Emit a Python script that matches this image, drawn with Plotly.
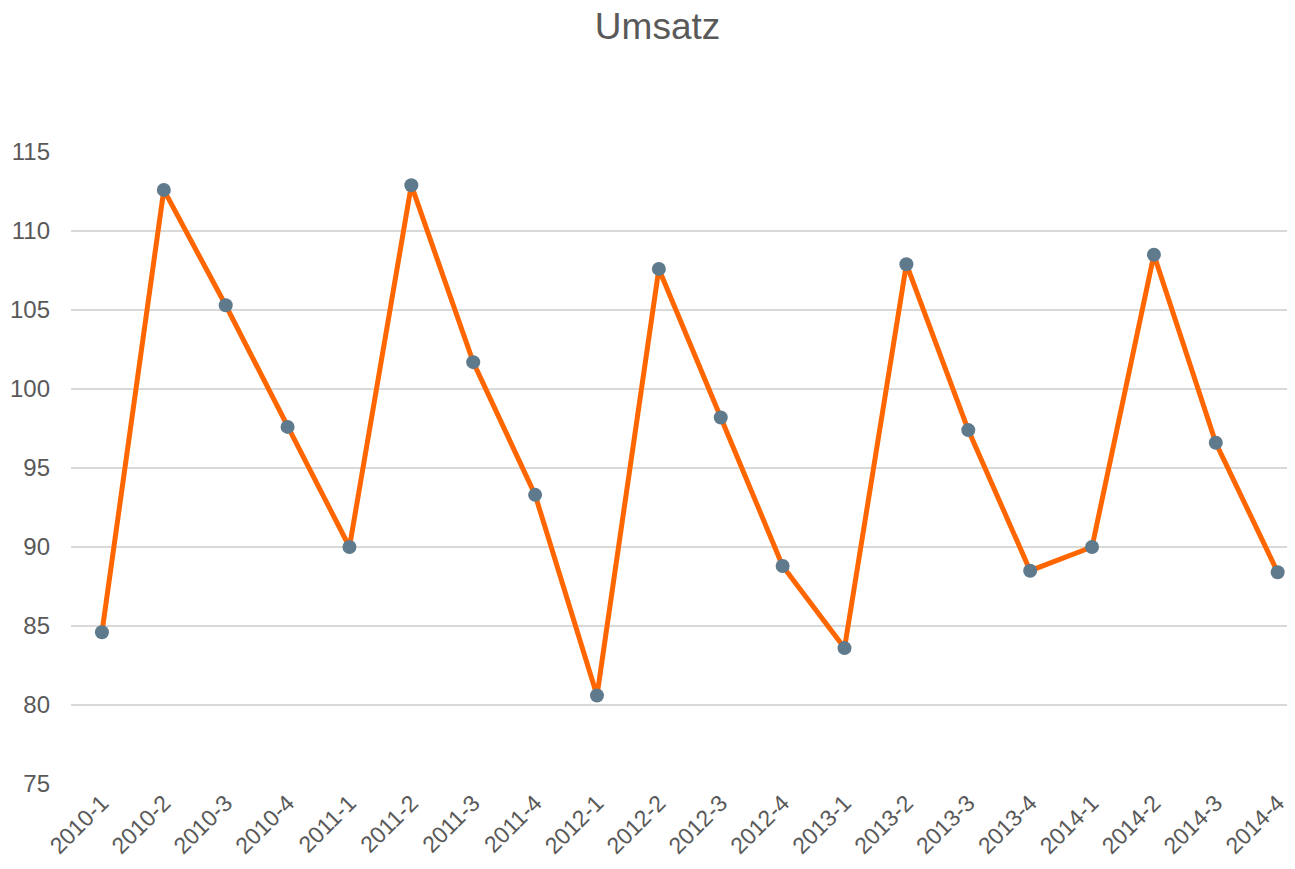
import plotly.graph_objects as go

quarters = [
    "2010-1", "2010-2", "2010-3", "2010-4",
    "2011-1", "2011-2", "2011-3", "2011-4",
    "2012-1", "2012-2", "2012-3", "2012-4",
    "2013-1", "2013-2", "2013-3", "2013-4",
    "2014-1", "2014-2", "2014-3", "2014-4",
]
umsatz = [
    84.6, 112.6, 105.3, 97.6,
    90.0, 112.9, 101.7, 93.3,
    80.6, 107.6, 98.2, 88.8,
    83.6, 107.9, 97.4, 88.5,
    90.0, 108.5, 96.6, 88.4,
]
y_ticks = [75, 80, 85, 90, 95, 100, 105, 110, 115]

text_color = "#595959"

fig = go.Figure()
fig.add_trace(
    go.Scatter(
        x=quarters,
        y=umsatz,
        mode="lines+markers",
        line=dict(color="#FF6600", width=5),
        marker=dict(color="#5F7A8C", size=14),
        name="Umsatz",
    )
)

# page body has an 8px margin, so the figure is a bit smaller than the window
fig.update_layout(
    width=1287,
    height=861,
    paper_bgcolor="white",
    plot_bgcolor="white",
    showlegend=False,
    font=dict(family="Liberation Sans, Arial, sans-serif", color=text_color),
    title=dict(
        text="Umsatz",
        x=0.5047,
        xanchor="center",
        y=1 - 18 / 861,
        yanchor="middle",
        font=dict(size=37, color=text_color),
    ),
    margin=dict(l=63, r=0, t=144, b=85),
    xaxis=dict(
        type="category",
        range=[-0.5, 19.28],
        tickangle=-45,
        showgrid=False,
        showline=False,
        ticks="",
        tickfont=dict(size=23, color=text_color),
    ),
    yaxis=dict(
        range=[75, 115],
        tickvals=y_ticks,
        showgrid=True,
        gridcolor="#D9D9D9",
        gridwidth=1.5,
        zeroline=False,
        showline=False,
        ticks="",
        ticklabelstandoff=20,
        tickfont=dict(size=24, color=text_color),
    ),
)

fig.write_html("out.html")
